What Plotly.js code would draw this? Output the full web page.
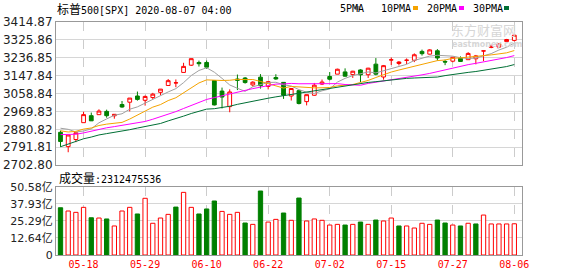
<!DOCTYPE html>
<html><head><meta charset="utf-8">
<script src="https://cdn.plot.ly/plotly-3.0.1.min.js"></script>
<style>html,body{margin:0;padding:0;background:#fff}#chart{width:578px;height:276px}</style>
</head><body><div id="chart"></div>
<script>
const dates = ['05-13','05-14','05-15','05-18','05-19','05-20','05-21','05-22','05-26','05-27','05-28','05-29','06-01','06-02','06-03','06-04','06-05','06-08','06-09','06-10','06-11','06-12','06-15','06-16','06-17','06-18','06-19','06-22','06-23','06-24','06-25','06-26','06-29','06-30','07-01','07-02','07-06','07-07','07-08','07-09','07-10','07-13','07-14','07-15','07-16','07-17','07-20','07-21','07-22','07-23','07-24','07-27','07-28','07-29','07-30','07-31','08-03','08-04','08-05','08-06'];
const open = [2865.86,2794.54,2829.95,2913.86,2948.59,2953.63,2969.95,2948.05,3004.08,3015.65,3046.61,3025.17,3038.78,3064.78,3098.90,3111.56,3163.84,3199.92,3213.32,3213.42,3123.53,3071.04,2993.76,3131.00,3136.13,3101.64,3140.29,3094.42,3138.70,3114.40,3046.60,3073.20,3018.59,3050.20,3105.92,3143.64,3155.29,3166.44,3153.07,3176.17,3152.47,3205.08,3141.11,3225.98,3208.36,3224.21,3224.29,3268.52,3254.86,3271.64,3218.58,3219.84,3234.27,3227.22,3231.76,3270.45,3288.26,3289.92,3317.37,3323.17];
const high = [2874.14,2852.80,2865.01,2968.09,2964.21,2980.29,2978.50,2956.76,3021.72,3036.25,3068.67,3049.17,3062.18,3081.07,3130.94,3128.91,3211.72,3233.13,3222.71,3223.27,3123.53,3088.42,3079.76,3153.45,3141.16,3120.00,3155.53,3120.92,3154.90,3115.01,3086.25,3073.73,3053.89,3111.51,3128.44,3165.81,3182.59,3184.15,3171.80,3179.78,3186.82,3235.32,3200.95,3238.28,3220.39,3233.52,3258.61,3277.29,3279.32,3279.99,3227.26,3241.43,3243.72,3264.74,3250.92,3272.17,3302.73,3306.84,3330.77,3351.03];
const low = [2793.15,2766.64,2816.78,2913.86,2922.35,2953.63,2938.57,2933.59,2988.17,2969.75,3023.40,2998.61,3031.54,3051.64,3098.90,3090.41,3163.84,3196.00,3193.11,3181.49,2999.49,2984.47,2965.66,3076.06,3108.03,3093.51,3083.11,3079.39,3127.12,3032.13,3024.01,3004.63,2999.74,3047.83,3101.17,3124.52,3155.29,3142.93,3136.53,3115.70,3136.22,3149.43,3127.66,3200.76,3198.59,3205.65,3215.16,3247.77,3253.10,3222.66,3200.05,3214.25,3216.17,3227.22,3204.13,3220.26,3284.53,3286.37,3317.37,3318.14];
const close = [2820.00,2852.50,2863.70,2953.91,2922.94,2971.61,2948.51,2955.45,2991.77,3036.13,3029.73,3044.31,3055.73,3080.82,3122.87,3112.35,3193.93,3232.39,3207.18,3190.14,3002.10,3041.31,3066.59,3124.74,3113.49,3115.34,3097.74,3117.86,3131.29,3050.33,3083.76,3009.05,3053.24,3100.29,3115.86,3130.01,3179.72,3145.32,3169.94,3152.05,3185.04,3155.22,3197.52,3226.56,3215.57,3224.73,3251.84,3257.30,3276.02,3235.66,3215.63,3239.41,3218.44,3258.44,3246.22,3271.12,3294.61,3306.51,3327.77,3349.16];
const ma5 = [2886.2,2880.6,2867.4,2872.2,2882.8,2913.2,2932.4,2950.6,2958.2,2980.8,2992.4,3011.4,3031.6,3049.4,3066.8,3083.2,3113.2,3148.4,3173.6,3187.0,3165.0,3134.4,3101.4,3085.0,3069.6,3092.2,3103.6,3113.8,3115.0,3102.4,3096.2,3078.4,3065.4,3059.2,3072.4,3081.6,3115.8,3134.2,3148.2,3155.4,3166.4,3161.4,3172.0,3183.4,3196.2,3204.2,3223.6,3235.4,3245.2,3249.2,3247.4,3244.8,3237.0,3233.4,3235.4,3246.4,3257.6,3275.4,3289.4,3310.0];
const ma10 = [2873.3,2867.4,2870.7,2881.8,2887.3,2899.7,2906.5,2909.0,2915.2,2931.8,2952.8,2971.9,2991.1,3003.8,3023.8,3037.8,3062.3,3090.0,3111.5,3126.9,3124.1,3123.8,3124.9,3129.3,3128.3,3128.6,3119.0,3107.6,3100.0,3086.0,3094.2,3091.0,3089.6,3087.1,3087.4,3088.9,3097.1,3099.8,3103.7,3113.9,3124.0,3138.6,3153.1,3165.8,3175.8,3185.3,3192.5,3203.7,3214.3,3222.7,3225.8,3234.2,3236.2,3239.3,3242.3,3246.9,3251.2,3256.2,3261.4,3272.7];
const ma20 = [2854.2,2856.8,2856.3,2862.8,2872.1,2880.8,2888.3,2894.2,2899.9,2908.6,2913.1,2919.7,2930.9,2942.8,2955.6,2968.8,2984.4,2999.5,3013.4,3029.4,3038.5,3047.9,3058.0,3066.6,3076.1,3083.2,3090.7,3098.8,3105.8,3106.5,3109.2,3107.4,3107.3,3108.2,3107.9,3108.8,3108.1,3103.7,3101.9,3100.0,3109.1,3114.8,3121.4,3126.5,3131.6,3137.1,3144.8,3151.8,3159.0,3168.3,3174.9,3186.4,3194.7,3202.6,3209.1,3216.1,3221.9,3230.0,3237.9,3247.7];
const ma30 = [2794.1,2806.9,2818.1,2833.6,2842.2,2852.7,2859.3,2864.8,2872.5,2878.8,2887.0,2895.2,2901.2,2909.8,2922.7,2933.1,2946.3,2959.5,2970.4,2981.3,2983.4,2987.7,2995.6,3005.0,3013.1,3022.0,3029.3,3035.5,3042.2,3048.2,3057.0,3062.2,3068.5,3073.4,3079.8,3085.1,3092.8,3099.1,3105.1,3108.9,3114.1,3117.8,3122.5,3127.4,3130.5,3134.3,3136.2,3137.0,3139.3,3140.9,3148.0,3154.6,3159.6,3164.1,3168.5,3173.7,3180.3,3186.6,3193.1,3203.1];
const volume = [35.0,32.6,31.6,35.3,27.6,27.4,26.7,21.5,32.6,35.3,30.4,42.0,23.5,27.4,30.1,35.5,46.4,35.3,30.4,34.1,40.0,32.3,30.1,31.6,23.7,22.7,47.4,24.4,26.4,31.1,25.7,42.2,25.2,26.7,25.7,22.2,22.7,22.2,22.7,24.4,22.7,25.9,25.2,27.4,21.5,21.5,20.0,23.5,22.7,25.9,23.7,22.2,21.5,23.5,23.0,29.6,23.0,23.0,23.0,23.12];
const volUp = [0,1,1,1,0,1,0,1,1,1,0,1,1,1,1,0,1,1,0,0,0,1,1,1,0,1,0,1,1,0,1,0,1,1,1,1,1,0,1,0,1,0,1,1,0,1,1,1,1,0,0,1,0,1,0,1,1,1,1,1];
const tickDates = ['05-18','05-29','06-10','06-22','07-02','07-15','07-27','08-06'];
const priceTicks = [2702.80,2791.81,2880.82,2969.83,3058.84,3147.84,3236.85,3325.86,3414.87];
const volTicks = [0,12.645,25.29,37.935,50.58];
const volTickText = ['0','12.64亿','25.29亿','37.93亿','50.58亿'];
const maNames = ['5PMA','10PMA','20PMA','30PMA'];
const maColors = ['#a0a0a0','#f5a300','#ff00ff','#006f35'];

const RED = '#ff0000', GREEN = '#008000';
const W = 578, H = 276, ML = 56, MR = 56, MT = 22, MB = 21;
const PW = W - ML - MR, PH = H - MT - MB;
const px2x = p => (p - ML) / PW;
const py2y = p => (H - MB - p) / PH;

const traces = [];
[ma5, ma10, ma20, ma30].forEach((m, k) => {
  traces.push({type:'scatter', mode:'lines', x:dates, y:m, xaxis:'x', yaxis:'y',
    line:{color:maColors[k], width:1}, hoverinfo:'skip', name:maNames[k]});
});
traces.push({type:'candlestick', x:dates, open:open, high:high, low:low, close:close,
  xaxis:'x', yaxis:'y', whiskerwidth:0,
  increasing:{line:{color:RED, width:1}, fillcolor:'#ffffff'},
  decreasing:{line:{color:GREEN, width:1}, fillcolor:GREEN}, hoverinfo:'skip'});
traces.push({type:'bar', x:dates, y:volume, xaxis:'x2', yaxis:'y2', width:0.56,
  marker:{color:volUp.map(u => u ? '#ffffff' : GREEN), line:{color:volUp.map(u => u ? RED : GREEN), width:1}},
  hoverinfo:'skip'});

const tickFont = {family:'DejaVu Sans, Noto Sans CJK SC', size:12, color:'#222'};
const frame = {showline:true, mirror:true, linecolor:'#999', linewidth:1, zeroline:false, ticks:'', fixedrange:true};
const xcommon = Object.assign({}, frame, {type:'category', range:[-0.585, 60.0], tickmode:'array', tickvals:tickDates, ticktext:tickDates,
  showgrid:true, gridcolor:'#cccccc', griddash:'dash', gridwidth:1, rangeslider:{visible:false}});

const ann = [];
const txtFont = {family:'DejaVu Sans Mono, Noto Sans CJK SC', size:10, color:'#000'};
ann.push({xref:'paper', yref:'paper', x:px2x(55), y:py2y(9), xanchor:'left', yanchor:'middle', showarrow:false,
  text:'<span style="font-family:Noto Sans CJK SC;font-size:12px">标普</span>500[SPX] 2020-08-07 04:00', font:txtFont});
ann.push({xref:'paper', yref:'paper', x:px2x(57), y:py2y(177), xanchor:'left', yanchor:'middle', showarrow:false,
  text:'<span style="font-family:Noto Sans CJK SC;font-size:12px">成交量</span>:' + '2312475536', font:txtFont});
const legX = [339, 380, 426, 472];
const sqX = [355, 413, 459, 504];
const shapes = [];
maNames.forEach((n, k) => {
  ann.push({xref:'paper', yref:'paper', x:px2x(legX[k] - 1), y:py2y(8.5), xanchor:'left', yanchor:'middle', showarrow:false, text:n, font:txtFont});
  shapes.push({type:'rect', xref:'paper', yref:'paper', x0:px2x(sqX[k]), x1:px2x(sqX[k] + 5), y0:py2y(10), y1:py2y(6), fillcolor:maColors[k], line:{width:0}});
});
// watermark
ann.push({xref:'paper', yref:'paper', x:px2x(450), y:py2y(29), xanchor:'left', yanchor:'middle', showarrow:false, borderpad:0,
  text:'东方财富网', font:{family:'Noto Sans CJK SC', size:13, color:'#d6d6d6'}});
ann.push({xref:'paper', yref:'paper', x:px2x(451), y:py2y(44.5), xanchor:'left', yanchor:'middle', showarrow:false, borderpad:0,
  text:'<b>eastmoney.com</b>', font:{family:'DejaVu Sans', size:8, color:'#d6d6d6'}});

const layout = {
  width:W, height:H, margin:{l:ML, r:MR, t:MT, b:MB, pad:0},
  paper_bgcolor:'#ffffff', plot_bgcolor:'#ffffff', showlegend:false, dragmode:false,
  xaxis: Object.assign({}, xcommon, {anchor:'y', showticklabels:false}),
  xaxis2: Object.assign({}, xcommon, {anchor:'y2', matches:'x', showticklabels:true,
    tickfont:{family:'DejaVu Sans Mono', size:10, color:RED}}),
  yaxis: Object.assign({}, frame, {domain:[0.386, 1], range:[priceTicks[0], priceTicks[priceTicks.length-1]], tickmode:'array',
    tickvals:priceTicks, ticktext:priceTicks.map(v => v.toFixed(2)), showgrid:true, gridcolor:'#d6d6d6', gridwidth:1, tickfont:tickFont}),
  yaxis2: Object.assign({}, frame, {domain:[0, 0.293], range:[0, 50.58], tickmode:'array',
    tickvals:volTicks, ticktext:volTickText, showgrid:true, gridcolor:'#d6d6d6', gridwidth:1,
    tickfont:{family:'DejaVu Sans, Noto Sans CJK SC', size:11, color:'#222'}}),
  annotations: ann, shapes: shapes
};
Plotly.newPlot('chart', traces, layout, {staticPlot:true, displayModeBar:false});
</script></body></html>
